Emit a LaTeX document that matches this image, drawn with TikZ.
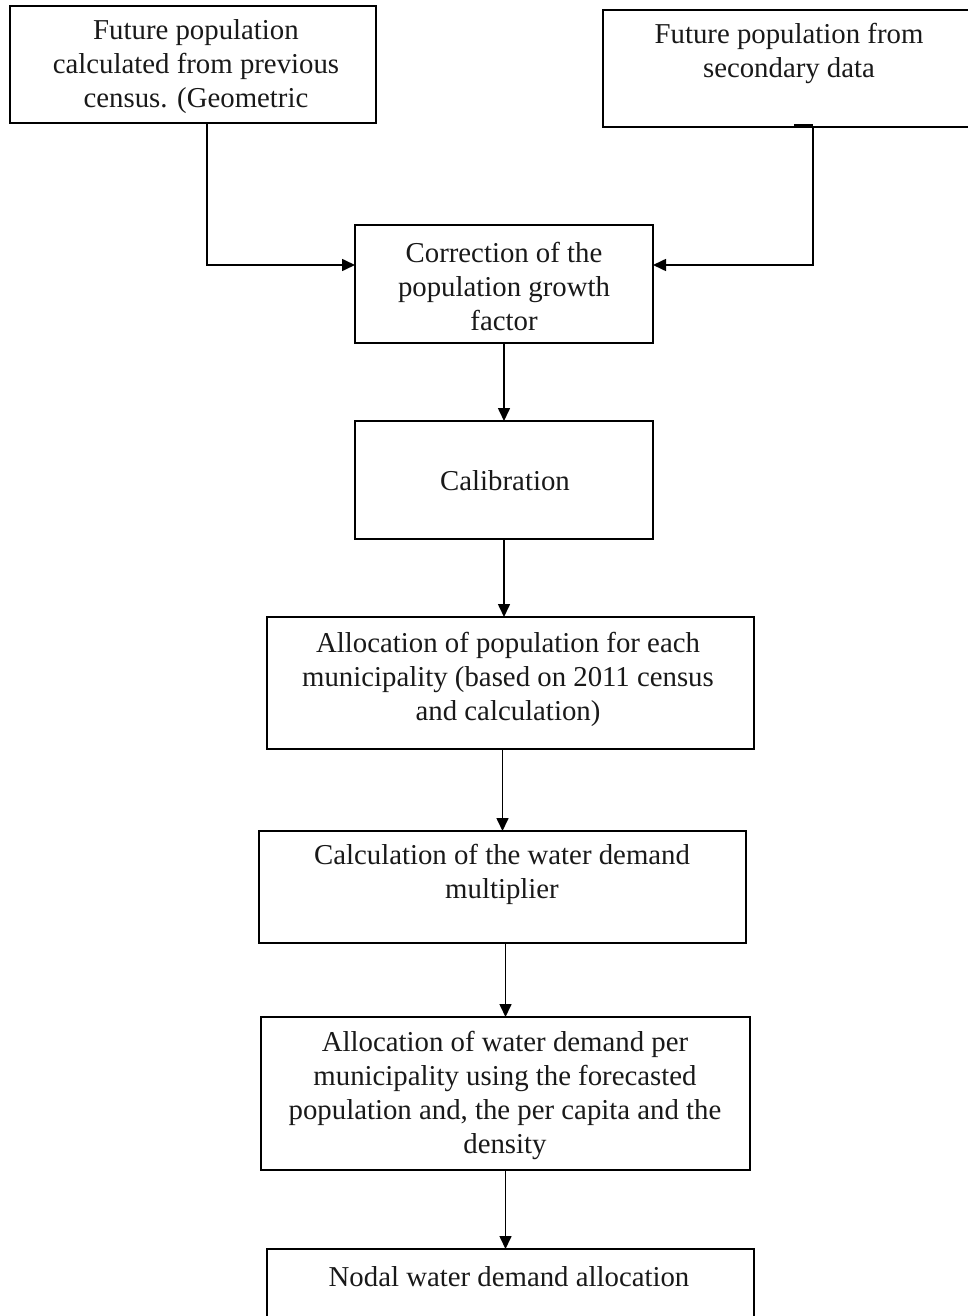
\documentclass[tikz,border=0pt]{standalone}
\usepackage{fontspec}
\setmainfont{Liberation Serif}
\usetikzlibrary{arrows.meta,calc}
\begin{document}
\begin{tikzpicture}[x=0.5pt,y=-0.5pt,
  box/.style={draw=black,line width=0.8pt,rectangle,inner sep=0pt,outer sep=0pt},
  txt/.style={align=center,inner sep=0pt,font=\fontsize{14.4}{17}\selectfont,text=black!90},
  arr/.style={draw=black,line width=0.8pt,-{Triangle[length=6.5pt,width=6pt]}}]
\clip (0,0) rectangle (968,1316);
\fill[white] (0,0) rectangle (968,1316);
% boxes
\node[box,minimum width=183pt,minimum height=58.5pt] (A) at (193,64.5) {};
\node[box,minimum width=186pt,minimum height=58.5pt] (B) at (789,68.5) {};
\node[box,minimum width=149pt,minimum height=59pt] (C) at (504,284) {};
\node[box,minimum width=149pt,minimum height=59pt] (D) at (504,480) {};
\node[box,minimum width=243.5pt,minimum height=66pt] (E) at (510.5,683) {};
\node[box,minimum width=243.5pt,minimum height=56pt] (F) at (502.5,887) {};
\node[box,minimum width=244.5pt,minimum height=76.5pt] (G) at (505.5,1093.5) {};
\node[box,minimum width=243.5pt,minimum height=45.5pt] (H) at (510.5,1294.5) {};
% texts
\node[txt] (tA) at (196,66.5) {Future population\\calculated from previous\\census. (Geometric};
\node[txt] (tB) at (789,53.5) {Future population from\\secondary data};
\node[txt] (tC) at (504,286.5) {Correction of the\\population growth\\factor};
\node[txt] (tD) at (505,481) {Calibration};
\node[txt] (tE) at (508,679) {Allocation of population for each\\municipality (based on 2011 census\\and calculation)};
\node[txt] (tF) at (502,874) {Calculation of the water demand\\multiplier};
\node[txt] (tG) at (505,1095.5) {Allocation of water demand per\\municipality using the forecasted\\population and, the per capita and the\\density};
\node[txt] (tH) at (509,1277) {Nodal water demand allocation};
% small tab on box B
\coordinate (tab1) at (794,126);
\draw[line width=1.5pt] (tab1) -- (tab1 -| B.south -| 813,0);
% connectors
\coordinate (a1) at (207,265);
\coordinate (b1) at (813,265);
\draw[arr] (A.south -| a1) |- (C.west |- a1);
\draw[arr] (B.south -| b1) |- (C.east |- b1);
\draw[arr] (C.south) -- (D.north);
\draw[arr] (D.south) -- (D.south |- E.north);
\draw[arr] (E.south -| F.north) -- (F.north);
\draw[arr] (F.south -| G.north) -- (G.north);
\draw[arr] (G.south) -- (G.south |- H.north);
\end{tikzpicture}
\end{document}
